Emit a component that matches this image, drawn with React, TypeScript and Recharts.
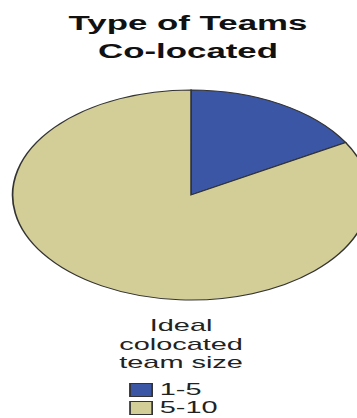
import { PieChart, Pie, Cell, Legend } from "recharts";

const sizes = ["1-5", "5-10"];
const counts = [1, 5];
const colors = ["#3C56A6", "#D3CE97"];
const titleLines = ["Type of Teams", "Co-located"];
const legendTitle = ["Ideal", "colocated", "team size"];

const data = sizes.map((name, i) => ({ name, value: counts[i] }));

// the original picture is stretched sideways, so draw narrow and scale the whole thing
const STRETCH = 1.7;
const W = 210;
const H = 418;
const font = "'Liberation Sans', Arial, sans-serif";

function LegendBox({ payload }: any) {
  return (
    <div style={{ fontFamily: font, fontSize: 17, color: "#222" }}>
      <div style={{ textAlign: "center", lineHeight: "18.5px", marginLeft: 3 }}>
        {legendTitle.map((t) => (
          <div key={t}>{t}</div>
        ))}
      </div>
      <div style={{ marginTop: 8, paddingLeft: 76 }}>
        {(payload || []).map((p: any) => (
          <div key={p.value} style={{ display: "flex", alignItems: "center", height: 18.5, lineHeight: "18.5px" }}>
            <span
              style={{
                display: "inline-block",
                width: 12,
                height: 12,
                background: p.color,
                border: "1px solid #333",
                marginRight: 4,
              }}
            />
            <span>{p.value}</span>
          </div>
        ))}
      </div>
    </div>
  );
}

export default function App() {
  return (
    <div
      style={{
        position: "absolute",
        left: 0,
        top: 0,
        width: W,
        height: H,
        transform: `scaleX(${STRETCH})`,
        transformOrigin: "0 0",
        background: "#fff",
      }}
    >
      <PieChart width={W} height={H} margin={{ top: 0, right: 0, bottom: 0, left: 0 }}>
        {titleLines.map((t, i) => (
          <text
            key={t}
            x={110.6}
            y={30.5 + i * 28}
            textAnchor="middle"
            fontFamily={font}
            fontWeight="bold"
            fontSize={20.5}
            fill="#111"
          >
            {t}
          </text>
        ))}
        <Pie
          data={data}
          dataKey="value"
          nameKey="name"
          cx={112.4}
          cy={195}
          outerRadius={105}
          startAngle={90}
          endAngle={-270}
          stroke="#333"
          strokeWidth={1}
          isAnimationActive={false}
        >
          {data.map((d, i) => (
            <Cell key={d.name} fill={colors[i]} />
          ))}
        </Pie>
        <Legend
          content={<LegendBox />}
          wrapperStyle={{ position: "absolute", top: 317, left: 0, width: W }}
        />
      </PieChart>
    </div>
  );
}
